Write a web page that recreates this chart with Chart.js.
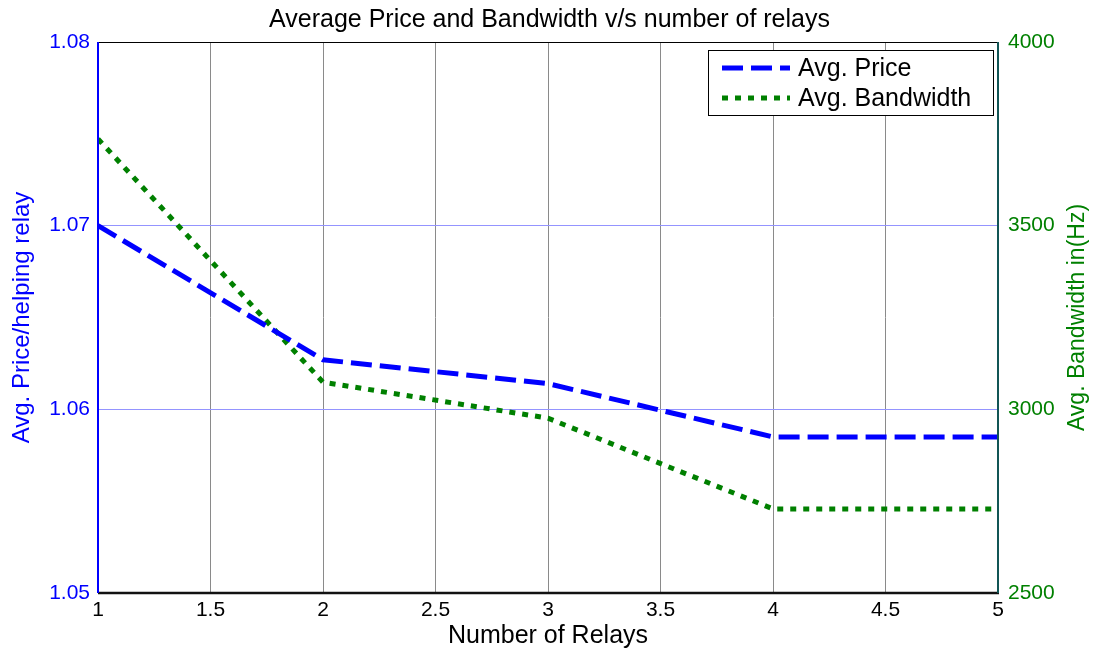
<!DOCTYPE html>
<html>
<head>
<meta charset="utf-8">
<script src="https://cdn.jsdelivr.net/npm/chart.js@4.4.0/dist/chart.umd.min.js"></script>
<style>
  html, body { margin: 0; padding: 0; background: #fff; }
  #wrap { width: 1099px; height: 651px; position: relative; }
</style>
</head>
<body>
<div id="wrap"><canvas id="relayChart"></canvas></div>
<script>
const relays = [1, 2, 3, 4, 5];
const avgPrice = [1.0700, 1.0627, 1.0614, 1.0585, 1.0585];
const avgBandwidth = [3736, 3074, 2976, 2729, 2729];
const priceTicks = [1.05, 1.06, 1.07, 1.08];
const bandwidthTicks = [2500, 3000, 3500, 4000];

const FONT = '"Liberation Sans", Arial, sans-serif';
const BLUE = '#0000ff';
const GREEN = '#008000';

// frame around the plot area, MATLAB style
const framePlugin = {
    id: 'frame',
    afterDatasetsDraw(chart) {
        const { ctx, chartArea: a } = chart;
        ctx.save();
        ctx.lineWidth = 1;
        ctx.strokeStyle = '#000';
        ctx.beginPath();
        ctx.moveTo(a.left, a.top + 0.5);
        ctx.lineTo(a.right, a.top + 0.5);
        ctx.stroke();
        ctx.lineWidth = 2.5;
        ctx.strokeStyle = '#111';
        ctx.beginPath();
        ctx.moveTo(a.left, a.bottom);
        ctx.lineTo(a.right + 1, a.bottom);
        ctx.stroke();
        ctx.lineWidth = 2;
        ctx.strokeStyle = BLUE;
        ctx.beginPath();
        ctx.moveTo(a.left, a.top);
        ctx.lineTo(a.left, a.bottom);
        ctx.stroke();
        ctx.strokeStyle = '#115555';
        ctx.beginPath();
        ctx.moveTo(a.right, a.top);
        ctx.lineTo(a.right, a.bottom);
        ctx.stroke();
        ctx.restore();
    }
};

// right axis title, reading bottom to top like the left one
const rightTitle = {
    id: 'rightTitle',
    afterDraw(chart, args, opts) {
        const { ctx, chartArea: a } = chart;
        ctx.save();
        ctx.translate(opts.x, (a.top + a.bottom) / 2);
        ctx.rotate(-Math.PI / 2);
        ctx.fillStyle = GREEN;
        ctx.font = opts.size + 'px ' + FONT;
        ctx.textAlign = 'center';
        ctx.textBaseline = 'middle';
        ctx.fillText(opts.text, 0, 0);
        ctx.restore();
    }
};

// boxed legend with line samples
const boxLegend = {
    id: 'boxLegend',
    afterDraw(chart, args, opts) {
        const ctx = chart.ctx;
        ctx.save();
        ctx.fillStyle = '#fff';
        ctx.fillRect(opts.x, opts.y, opts.w, opts.h);
        ctx.lineWidth = 1;
        ctx.strokeStyle = '#000';
        ctx.strokeRect(opts.x + 0.5, opts.y + 0.5, opts.w, opts.h);
        chart.data.datasets.forEach(function(ds, i) {
            const y = opts.y + 18 + i * 30;
            ctx.strokeStyle = ds.borderColor;
            ctx.lineWidth = ds.borderWidth;
            ctx.lineCap = 'butt';
            ctx.setLineDash(ds.borderDash);
            ctx.beginPath();
            ctx.moveTo(opts.x + 14, y);
            ctx.lineTo(opts.x + 82, y);
            ctx.stroke();
            ctx.setLineDash([]);
            ctx.fillStyle = '#000';
            ctx.font = '25px ' + FONT;
            ctx.textBaseline = 'middle';
            ctx.fillText(ds.label, opts.x + 90, y + 1);
        });
        ctx.restore();
    }
};

const data = {
    datasets: [{
        label: 'Avg. Price',
        data: relays.map((r, i) => ({ x: r, y: avgPrice[i] })),
        yAxisID: 'y',
        borderColor: BLUE,
        borderWidth: 5,
        borderDash: [21, 8],
        borderCapStyle: 'butt',
        pointRadius: 0,
        tension: 0,
        fill: false
    }, {
        label: 'Avg. Bandwidth',
        data: relays.map((r, i) => ({ x: r, y: avgBandwidth[i] })),
        yAxisID: 'y2',
        borderColor: GREEN,
        borderWidth: 5,
        borderDash: [6, 7],
        borderCapStyle: 'butt',
        pointRadius: 0,
        tension: 0,
        fill: false
    }]
};

const config = {
    type: 'line',
    data: data,
    plugins: [framePlugin, boxLegend, rightTitle],
    options: {
        responsive: true,
        maintainAspectRatio: false,
        animation: false,
        layout: { padding: 0 },
        scales: {
            x: {
                type: 'linear',
                min: 1,
                max: 5,
                afterFit: function(scale) { scale.height = 58; },
                grid: { color: '#8a8a8a', lineWidth: 1, drawTicks: false },
                border: { display: false },
                ticks: {
                    stepSize: 0.5,
                    padding: 5,
                    color: '#000',
                    font: { family: FONT, size: 21 },
                    callback: function(value) { return String(value); }
                },
                title: {
                    display: true,
                    text: 'Number of Relays',
                    color: '#000',
                    font: { family: FONT, size: 25 },
                    padding: { top: 0, bottom: 0 }
                }
            },
            y: {
                position: 'left',
                min: priceTicks[0],
                max: priceTicks[priceTicks.length - 1],
                afterFit: function(scale) { scale.width = 98; },
                afterBuildTicks: function(scale) {
                    scale.ticks = priceTicks.map(v => ({ value: v }));
                },
                grid: { color: '#9494ff', lineWidth: 1, drawTicks: false },
                border: { display: false },
                ticks: {
                    padding: 8,
                    color: BLUE,
                    font: { family: FONT, size: 21 },
                    callback: function(value) { return value.toFixed(2); }
                },
                title: {
                    display: true,
                    text: 'Avg. Price/helping relay',
                    color: BLUE,
                    font: { family: FONT, size: 24 },
                    padding: { top: 8, bottom: 0 }
                }
            },
            y2: {
                position: 'right',
                min: bandwidthTicks[0],
                max: bandwidthTicks[bandwidthTicks.length - 1],
                afterFit: function(scale) { scale.width = 101; },
                afterBuildTicks: function(scale) {
                    scale.ticks = bandwidthTicks.map(v => ({ value: v }));
                },
                grid: { display: false, drawTicks: false },
                border: { display: false },
                ticks: {
                    padding: 10,
                    color: GREEN,
                    font: { family: FONT, size: 21 },
                    callback: function(value) { return String(value); }
                }
            }
        },
        plugins: {
            legend: { display: false },
            tooltip: { enabled: false },
            title: {
                display: true,
                text: 'Average Price and Bandwidth v/s number of relays',
                color: '#000',
                font: { family: FONT, size: 25, weight: 'normal' },
                padding: { top: 5, bottom: 7 }
            },
            boxLegend: { x: 708, y: 50, w: 285, h: 65 },
            rightTitle: { x: 1078, size: 23, text: 'Avg. Bandwidth in(Hz)' }
        }
    }
};

const ctx = document.getElementById('relayChart').getContext('2d');
new Chart(ctx, config);
</script>
</body>
</html>
